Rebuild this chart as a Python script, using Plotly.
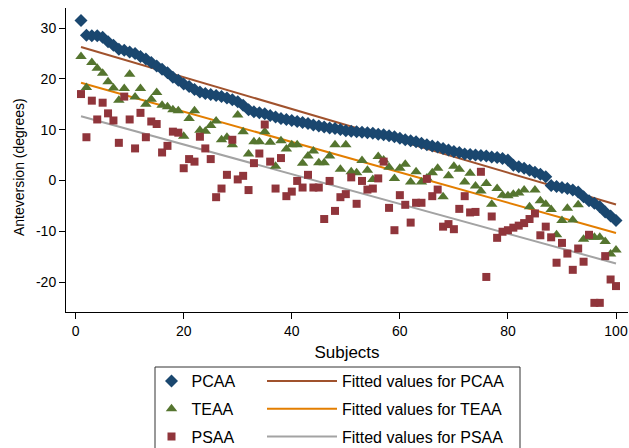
import numpy as np
import plotly.graph_objects as go

subjects = list(range(1, 101))

pcaa = [31.5, 28.6, 28.5, 28.5, 28.2, 27.3, 26.6, 25.8, 25.6, 25.3,
        25.0, 24.4, 23.9, 23.2, 22.5, 21.9, 21.2, 20.3, 19.7, 19.0,
        18.5, 17.9, 17.4, 17.1, 16.9, 16.7, 16.5, 16.2, 15.9, 15.5,
        14.8, 13.9, 13.5, 13.3, 13.1, 12.8, 12.5, 12.2, 12.0, 11.8,
        11.6, 11.4, 11.2, 10.9, 10.7, 10.5, 10.3, 10.2, 10.0, 9.8,
        9.7, 9.6, 9.5, 9.4, 9.3, 9.1, 9.0, 8.8, 8.6, 8.3,
        8.0, 7.8, 7.6, 7.3, 7.0, 6.8, 6.6, 6.3, 6.0, 5.7,
        5.5, 5.2, 5.1, 5.0, 4.9, 4.8, 4.6, 4.5, 4.3, 4.0,
        3.0, 2.7, 2.4, 2.0, 1.6, 1.2, 0.7, -1.0, -1.2, -1.4,
        -1.6, -1.9, -2.3, -3.2, -4.0, -4.5, -5.2, -6.2, -7.0, -7.9]

teaa = [24.4, 18.3, 23.2, 22.1, 21.1, 19.4, 18.2, 15.8, 18.1, 20.9,
        16.4, 18.1, 15.0, 16.0, 17.3, 14.8, 14.5, 13.9, 13.7, 8.7,
        12.2, 13.7, 9.9, 9.7, 10.8, 11.7, 8.0, 8.5, 7.0, 12.9,
        9.6, 5.2, 7.6, 7.6, 9.6, 7.5, 2.8, 7.8, 6.2, 7.0,
        7.0, 3.4, 4.8, 5.8, 3.5, 3.5, 4.8, 7.0, 2.2, 7.0,
        1.7, 1.5, 3.9, 2.0, 0.2, 4.7, 4.0, 2.6, 0.4, 2.4,
        3.2, -0.3, 1.7, -0.3, 0.5, 1.5, 2.4, -3.2, 0.9, 2.8,
        2.2, -0.3, 1.4, -1.1, -2.1, -0.6, -4.7, -1.6, -2.9, -3.0,
        -2.7, -2.5, -1.9, -5.2, -1.9, -4.0, -4.7, -5.7, -10.7, -7.9,
        -5.5, -7.8, -4.8, -11.6, -11.2, -11.2, -11.2, -12.0, -14.5, -13.7]

psaa = [17.0, 8.5, 15.7, 12.0, 15.3, 13.2, 11.8, 7.4, 16.5, 12.0,
        6.3, 13.3, 8.5, 11.6, 11.1, 5.5, 6.8, 9.6, 9.4, 2.4,
        4.2, 3.7, 8.6, 6.3, 4.2, -3.3, -1.6, 1.1, 8.0, 0.2,
        0.9, -1.9, 3.4, 5.3, 11.0, 3.7, -1.6, 4.4, -3.1, -2.2,
        -0.1, -1.4, 1.1, -1.4, -1.4, -7.6, -0.1, -6.0, -3.3, -2.7,
        0.6, -4.6, -0.1, -1.8, -1.6, 0.4, 3.7, -5.4, -9.8, -2.9,
        -4.8, -8.3, -4.4, -4.4, 0.3, -3.1, -1.8, -9.1, -8.6, -9.6,
        -5.6, -3.1, -6.3, -6.2, 1.7, -19.0, -7.1, -11.3, -10.1, -9.8,
        -9.3, -8.9, -8.4, -7.6, -6.5, -10.8, -9.1, -11.2, -16.2, -12.3,
        -14.4, -17.6, -13.4, -16.0, -10.7, -24.1, -24.1, -14.9, -19.5, -20.8]

series_names = ["PCAA", "TEAA", "PSAA"]
x_ticks = [0, 20, 40, 60, 80, 100]
y_ticks = [30, 20, 10, 0, -10, -20]
y_tick_labels = ["30", "20", "10", "0", "-10", "-20"]
x_title = "Subjects"
y_title = "Anteversion (degrees)"

# style
W, H = 629, 448
ML, MR, MT, MB = 66, 1, 8, 136
PW, PH = W - ML - MR, H - MT - MB
FONT = "Liberation Sans, Arial, sans-serif"

marker_styles = [
    dict(symbol="diamond", color="#1a476f", size=10),
    dict(symbol="triangle-up", color="#55752f", size=10),
    dict(symbol="square", color="#90353b", size=8),
]
fit_colors = ["#a0522d", "#e37e00", "#a3a3a3"]


def fx(px):
    return (px - ML) / PW


def fy(py):
    return (H - MB - py) / PH


fig = go.Figure()
data = [pcaa, teaa, psaa]
x_arr = np.array(subjects, dtype=float)

line_traces = []
marker_traces = []
for i, (name, vals) in enumerate(zip(series_names, data)):
    ms = marker_styles[i]
    marker_traces.append(go.Scatter(
        x=subjects, y=vals, mode="markers", name=name,
        marker=dict(symbol=ms["symbol"], color=ms["color"], size=ms["size"],
                    line=dict(width=0)),
        legend="legend", legendgroup="m" + str(i),
    ))
    slope, intercept = np.polyfit(x_arr, np.array(vals), 1)
    xs = [x_arr.min(), x_arr.max()]
    ys = [intercept + slope * v for v in xs]
    line_traces.append(go.Scatter(
        x=xs, y=ys, mode="lines", name="Fitted values for " + name,
        line=dict(color=fit_colors[i], width=2),
        legend="legend2", legendgroup="f" + str(i),
    ))

for t in line_traces + marker_traces:
    fig.add_trace(t)

axis_common = dict(ticks="outside", ticklen=6, tickcolor="#000", showline=True,
                   linecolor="#000", linewidth=1, showgrid=False, zeroline=False,
                   automargin=False, tickfont=dict(size=14))

fig.update_layout(
    width=W, height=H,
    margin=dict(l=ML, r=MR, t=MT, b=MB, pad=0, autoexpand=False),
    paper_bgcolor="white", plot_bgcolor="white",
    font=dict(family=FONT, size=14, color="#000000"),
    xaxis=dict(range=[-1.78, 102.22], tickvals=x_ticks,
               title=dict(text=x_title, standoff=8), **axis_common),
    yaxis=dict(range=[-25.9, 33.94], tickvals=y_ticks, ticktext=y_tick_labels,
               **axis_common),
    annotations=[dict(text=y_title, textangle=-90, xref="paper", yref="paper",
                      x=fx(19), y=fy(167), xanchor="center", yanchor="middle",
                      showarrow=False, font=dict(size=14))],
    legend=dict(x=fx(151.5), y=fy(364), xanchor="left", yanchor="top",
                bgcolor="rgba(0,0,0,0)", borderwidth=0,
                tracegroupgap=4, traceorder="grouped",
                font=dict(size=16), itemwidth=30),
    legend2=dict(x=fx(262), y=fy(364), xanchor="left", yanchor="top",
                 bgcolor="rgba(0,0,0,0)", borderwidth=0,
                 tracegroupgap=4, traceorder="grouped",
                 font=dict(size=16), itemwidth=70),
    shapes=[dict(type="rect", xref="paper", yref="paper",
                 x0=fx(155), x1=fx(520), y0=fy(367), y1=fy(470),
                 line=dict(color="#333333", width=1), fillcolor="rgba(0,0,0,0)",
                 layer="below")],
)

fig.write_html("out.html",
               config={"displayModeBar": False},
               post_script="document.body.style.margin='0';"
                           "document.body.style.overflow='hidden';")
